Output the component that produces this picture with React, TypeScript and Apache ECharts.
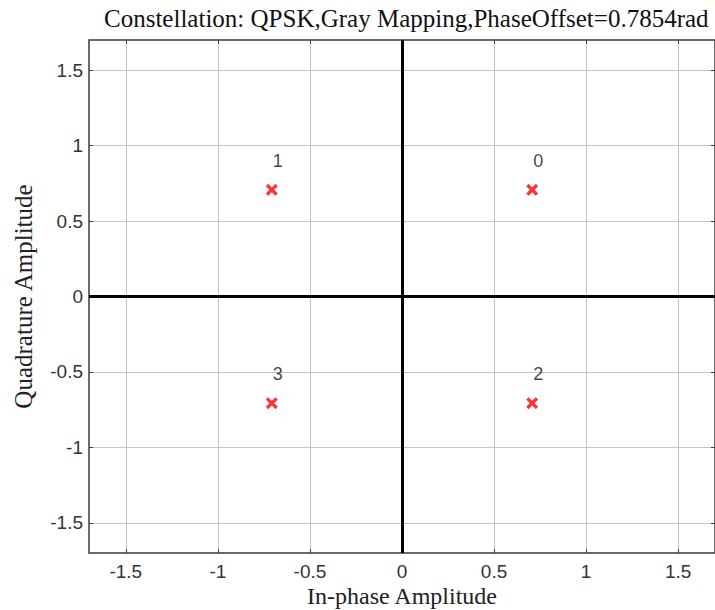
import React, { useEffect, useRef } from "react";
import * as echarts from "echarts";

const symbolIds = ["0", "1", "2", "3"];
const inPhase = [0.7071, -0.7071, 0.7071, -0.7071];
const quadrature = [0.7071, 0.7071, -0.7071, -0.7071];
const tickValues = [-1.5, -1, -0.5, 0, 0.5, 1, 1.5];
const titleText = "Constellation: QPSK,Gray Mapping,PhaseOffset=0.7854rad";
const xName = "In-phase Amplitude";
const yName = "Quadrature Amplitude";

const crossPath =
  "path://M0,2L2,0L5,3L8,0L10,2L7,5L10,8L8,10L5,7L2,10L0,8L3,5Z";

export default function App() {
  const ref = useRef<HTMLDivElement>(null);
  useEffect(() => {
    document.body.style.margin = "0";
    const chart = echarts.init(ref.current!, undefined, { renderer: "svg" });
    const tick = {
      show: true,
      inside: true,
      length: 4,
      customValues: tickValues,
      lineStyle: { color: "#404040", width: 1 },
    };
    const split = { show: true, lineStyle: { color: "#c4c4c4", width: 1 } };
    const label = (margin: number) => ({
      show: true,
      margin,
      customValues: tickValues,
      fontFamily: "Liberation Sans",
      fontSize: 19,
      lineHeight: 19,
      color: "#333",
    });
    const nameStyle = { fontFamily: "Liberation Serif", fontSize: 25, color: "#222" };
    chart.setOption({
      animation: false,
      backgroundColor: "#ffffff",
      title: {
        text: titleText,
        left: 99,
        top: 1,
        textStyle: {
          fontFamily: "Liberation Serif",
          fontWeight: "normal",
          fontSize: 25,
          color: "#111",
        },
      },
      grid: {
        left: 89,
        right: 0,
        top: 40,
        bottom: 57,
        outerBoundsMode: "none",
        containLabel: false,
        show: true,
        borderColor: "#3a3a3a",
        borderWidth: 1.5,
        backgroundColor: "transparent",
      },
      xAxis: [
        {
          type: "value",
          min: -1.7,
          max: 1.7,
          position: "bottom",
          name: xName,
          nameLocation: "middle",
          nameGap: 31,
          nameMoveOverlap: false,
          nameTextStyle: { ...nameStyle, fontSize: 24, lineHeight: 24 },
          axisLine: { show: false, onZero: false },
          axisTick: tick,
          splitLine: split,
          axisLabel: label(9),
        },
        {
          type: "value",
          min: -1.7,
          max: 1.7,
          position: "top",
          axisLine: { show: false, onZero: false },
          axisTick: tick,
          splitLine: { show: false },
          axisLabel: { show: false },
        },
      ],
      yAxis: [
        {
          type: "value",
          min: -1.7,
          max: 1.7,
          position: "left",
          name: yName,
          nameLocation: "middle",
          nameGap: 53,
          nameMoveOverlap: false,
          nameTextStyle: nameStyle,
          axisLine: { show: false, onZero: false },
          axisTick: tick,
          splitLine: split,
          axisLabel: label(6),
        },
        {
          type: "value",
          min: -1.7,
          max: 1.7,
          position: "right",
          axisLine: { show: false, onZero: false },
          axisTick: tick,
          splitLine: { show: false },
          axisLabel: { show: false },
        },
      ],
      series: [
        {
          type: "scatter",
          xAxisIndex: 0,
          yAxisIndex: 0,
          data: symbolIds.map((id, i) => ({ value: [inPhase[i], quadrature[i]], name: id })),
          symbol: crossPath,
          symbolSize: 12,
          itemStyle: { color: "#ff0000" },
          label: {
            show: true,
            position: "inside",
            offset: [6, -29],
            formatter: (p: any) => p.name,
            fontFamily: "Liberation Sans",
            fontSize: 18,
            color: "#111",
          },
          markLine: {
            silent: true,
            symbol: "none",
            label: { show: false },
            lineStyle: { color: "#000", width: 3, type: "solid" },
            data: [{ xAxis: 0 }, { yAxis: 0 }],
          },
          z: 5,
        },
      ],
    });
    return () => chart.dispose();
  }, []);
  return <div ref={ref} style={{ width: 715, height: 610 }} />;
}
